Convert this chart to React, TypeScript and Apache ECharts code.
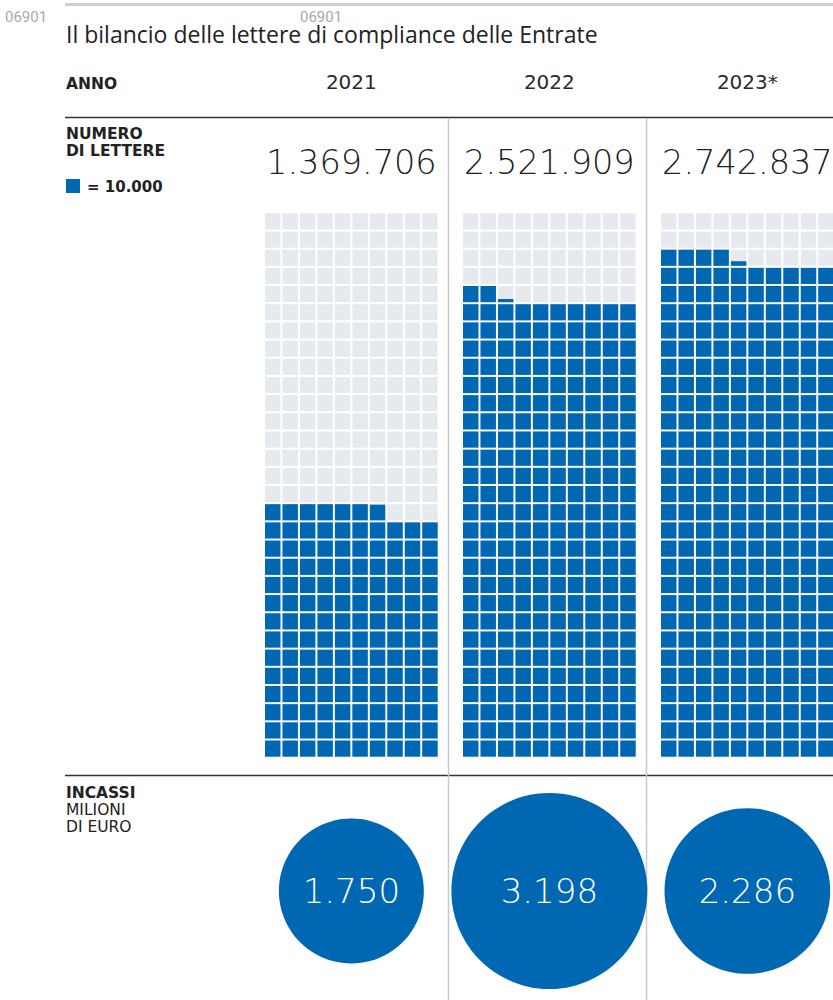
import React, { useEffect, useRef } from "react";
import * as echarts from "echarts";

// ---- data ----
const years = ["2021", "2022", "2023*"];
const letters = [1369706, 2521909, 2742837];
const incassi = [1750, 3198, 2286];
const unitValue = 10000;
const waffleCols = 10;
const waffleRows = 30;

const BLUE = "#0068b3";
const GRAY_CELL = "#e6e9ee";
const DARK = "#222222";
const WIDE = "DejaVu Sans";

const fmt = (n: number) =>
  String(Math.round(n)).replace(/\B(?=(\d{3})+(?!\d))/g, ".");

// layout
const W = 833;
const H = 1000;
const colPitch = 198;
const gridLeft0 = 264;
const gridW = 174.7;
const gridTop = 212.3;
const gridH = 545.4;
const gap = 2;
const circleMaxDiam = 196;

function cellsFor(v: number) {
  const units = v / unitValue;
  const out: number[][] = [];
  for (let i = 0; i < waffleCols * waffleRows; i++) {
    const row = Math.floor(i / waffleCols);
    const col = i % waffleCols;
    const f = Math.max(0, Math.min(1, units - i));
    out.push([col, row, f]);
  }
  return out;
}

export default function App() {
  const ref = useRef<HTMLDivElement>(null);
  useEffect(() => {
    document.body.style.margin = "0";
    const chart = echarts.init(ref.current!, null, { renderer: "svg" });

    const grids: any[] = [];
    const xAxes: any[] = [];
    const yAxes: any[] = [];
    const series: any[] = [];

    years.forEach((y, i) => {
      const left = gridLeft0 + i * colPitch;
      const width = Math.min(gridW, W - left);
      grids.push({ left, top: gridTop, width, height: gridH });
      xAxes.push({ type: "value", min: 0, max: (waffleCols * width) / gridW, show: false, gridIndex: i });
      yAxes.push({ type: "value", min: 0, max: waffleRows, show: false, gridIndex: i });
      series.push({
        type: "custom",
        xAxisIndex: i,
        yAxisIndex: i,
        clip: false,
        data: cellsFor(letters[i]),
        renderItem: (params: any, api: any) => {
          const c = api.value(0);
          const r = api.value(1);
          const f = api.value(2);
          const p0 = api.coord([c, r]);
          const p1 = api.coord([c + 1, r + 1]);
          const x = p0[0] + gap / 2;
          const w = p1[0] - p0[0] - gap;
          const yb = p0[1] - gap / 2;
          const h = p0[1] - p1[1] - gap;
          const children: any[] = [
            { type: "rect", shape: { x, y: yb - h, width: w, height: h }, style: { fill: GRAY_CELL } },
          ];
          if (f > 0) {
            children.push({
              type: "rect",
              shape: { x, y: yb - h * f, width: w, height: h * f },
              style: { fill: BLUE },
            });
          }
          return { type: "group", children };
        },
      });
    });

    // circles grid: x value = year index, centered under each waffle
    const cg = years.length;
    const c0 = gridLeft0 + gridW / 2;
    grids.push({ left: c0, top: 793, width: colPitch * (years.length - 1), height: 196 });
    xAxes.push({ type: "value", min: 0, max: years.length - 1, show: false, gridIndex: cg });
    yAxes.push({ type: "value", min: 0, max: 1, show: false, gridIndex: cg });
    const maxInc = Math.max(...incassi);
    series.push({
      type: "scatter",
      xAxisIndex: cg,
      yAxisIndex: cg,
      clip: false,
      data: incassi.map((v, i) => [i, 0.5, v]),
      symbolSize: (val: any) => circleMaxDiam * Math.sqrt(val[2] / maxInc),
      itemStyle: { color: BLUE, opacity: 1 },
      label: {
        show: true,
        position: "inside",
        formatter: (p: any) => fmt(p.value[2]),
        color: "#ffffff",
        fontSize: 34,
        fontFamily: WIDE,
        fontWeight: 200,
      },
    });

    const graphic: any[] = [];
    // watermark
    graphic.push({ type: "text", x: 5, y: 9, style: { text: "06901", fill: "#a8a8a8", fontSize: 15, fontFamily: "Roboto" } });
    graphic.push({ type: "text", x: 300, y: 9, style: { text: "06901", fill: "#a8a8a8", fontSize: 15, fontFamily: "Roboto" } });
    // top rule
    graphic.push({ type: "rect", shape: { x: 65, y: 3, width: W - 65, height: 3 }, style: { fill: "#cfcfcf" } });
    // title
    graphic.push({
      type: "text", x: 66, y: 33.5,
      style: { text: "Il bilancio delle lettere di compliance delle Entrate", fill: DARK, fontSize: 23, fontFamily: "Open Sans", verticalAlign: "middle" },
    });
    graphic.push({
      type: "text", x: 66, y: 84,
      style: { text: "ANNO", fill: DARK, fontSize: 15.5, fontWeight: "bold", fontFamily: WIDE, verticalAlign: "middle" },
    });
    // separators
    graphic.push({ type: "line", shape: { x1: 65, y1: 117.5, x2: W, y2: 117.5 }, style: { stroke: "#333", lineWidth: 1.5 } });
    graphic.push({ type: "line", shape: { x1: 65, y1: 775.5, x2: W, y2: 775.5 }, style: { stroke: "#333", lineWidth: 1.5 } });
    for (let i = 1; i < years.length; i++) {
      const x = gridLeft0 + i * colPitch - 13.5;
      graphic.push({ type: "line", shape: { x1: x, y1: 118, x2: x, y2: H }, style: { stroke: "#c5c9cd", lineWidth: 1.5 } });
    }
    years.forEach((y, i) => {
      const cx = gridLeft0 + i * colPitch + gridW / 2;
      graphic.push({
        type: "text", x: cx, y: 82,
        style: { text: y, fill: "#2a2a2a", fontSize: 20, fontFamily: WIDE, align: "center", verticalAlign: "middle" },
      });
      graphic.push({
        type: "text", x: cx, y: 162,
        style: { text: fmt(letters[i]), fill: DARK, fontSize: 33.5, fontWeight: 200, fontFamily: WIDE, align: "center", verticalAlign: "middle" },
      });
    });
    // left labels
    graphic.push({
      type: "text", x: 66, y: 125,
      style: { text: "NUMERO\nDI LETTERE", fill: DARK, fontSize: 15.5, lineHeight: 17, fontWeight: "bold", fontFamily: WIDE, verticalAlign: "top" },
    });
    graphic.push({ type: "rect", shape: { x: 66, y: 179, width: 14, height: 14 }, style: { fill: BLUE } });
    graphic.push({
      type: "text", x: 87, y: 187,
      style: { text: "= 10.000", fill: DARK, fontSize: 15, fontWeight: "bold", fontFamily: WIDE, verticalAlign: "middle" },
    });
    graphic.push({
      type: "text", x: 66, y: 784,
      style: {
        text: "{b|INCASSI}\n{r|MILIONI}\n{r|DI EURO}",
        verticalAlign: "top",
        rich: {
          b: { fill: DARK, fontSize: 15.5, lineHeight: 17, fontWeight: "bold", fontFamily: WIDE },
          r: { fill: DARK, fontSize: 15.5, lineHeight: 17, fontFamily: WIDE },
        },
      },
    });

    chart.setOption({
      animation: false,
      backgroundColor: "#ffffff",
      grid: grids,
      xAxis: xAxes,
      yAxis: yAxes,
      series,
      graphic,
    });
    return () => chart.dispose();
  }, []);
  return <div ref={ref} style={{ width: W, height: H }} />;
}
